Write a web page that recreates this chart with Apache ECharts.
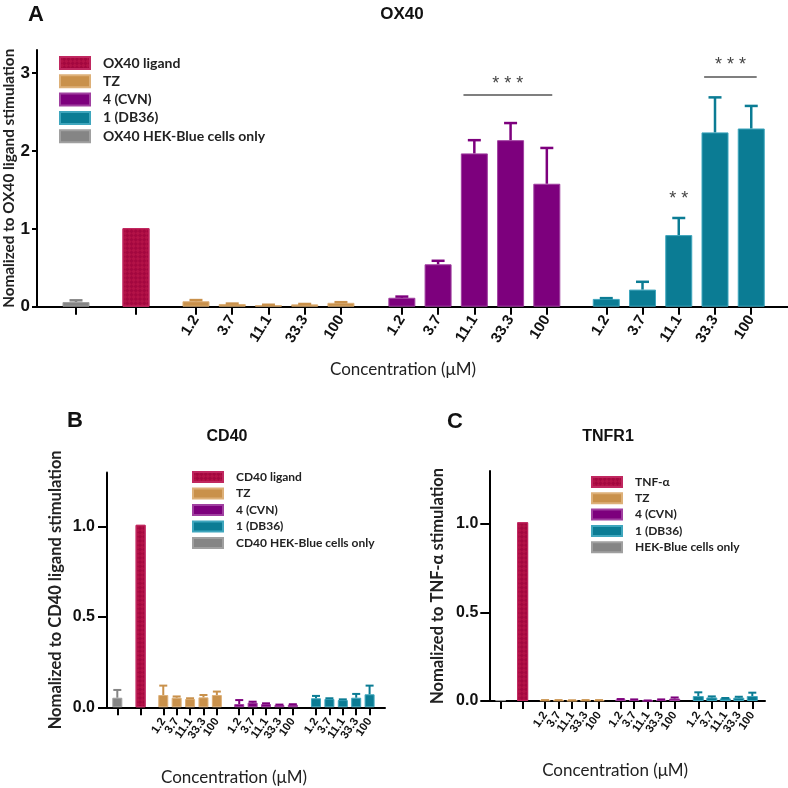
<!DOCTYPE html>
<html><head><meta charset="utf-8">
<script src="https://cdn.jsdelivr.net/npm/echarts@6/dist/echarts.min.js"></script>
<style>html,body{margin:0;padding:0;background:#fff}#c{width:788px;height:788px}</style>
</head><body><div id="c"></div><script>
// ---------- data ----------
const concLabels = ['1.2', '3.7', '11.1', '33.3', '100'];
const groupNames = ['TZ', '4 (CVN)', '1 (DB36)'];

// Panel A: OX40
const aCells = [0.06], aCellsErr = [0.022];
const aLigand = [1.01], aLigandErr = [0];
const aTZ = [0.07, 0.035, 0.02, 0.03, 0.05], aTZErr = [0.015, 0.005, 0.005, 0.005, 0.008];
const aCVN = [0.115, 0.545, 1.97, 2.14, 1.58], aCVNErr = [0.015, 0.045, 0.17, 0.22, 0.46];
const aDB36 = [0.10, 0.22, 0.92, 2.24, 2.29], aDB36Err = [0.01, 0.10, 0.22, 0.45, 0.29];
const aSig = [
  { group: 3, from: 2, to: 4, y: 2.72, text: '* * *' },
  { group: 4, from: 3, to: 4, y: 2.96, text: '* * *' }
];
const aSigSingle = [{ group: 4, idx: 2, y: 1.38, text: '* *' }];

// Panel B: CD40
const bCells = [0.053], bCellsErr = [0.043];
const bLigand = [1.01], bLigandErr = [0];
const bTZ = [0.068, 0.053, 0.046, 0.055, 0.068], bTZErr = [0.052, 0.007, 0.004, 0.013, 0.019];
const bCVN = [0.018, 0.026, 0.018, 0.013, 0.015], bCVNErr = [0.022, 0.005, 0.004, 0.002, 0.002];
const bDB36 = [0.05, 0.046, 0.04, 0.053, 0.072], bDB36Err = [0.013, 0.004, 0.004, 0.021, 0.048];

// Panel C: TNFR1
const cCells = [0.005], cCellsErr = [0];
const cLigand = [1.01], cLigandErr = [0];
const cTZ = [0.004, 0.004, 0.003, 0.004, 0.004], cTZErr = [0.001, 0.001, 0.001, 0.001, 0.001];
const cCVN = [0.008, 0.006, 0.002, 0.006, 0.014], cCVNErr = [0.003, 0.003, 0.001, 0.003, 0.006];
const cDB36 = [0.028, 0.02, 0.015, 0.019, 0.028], cDB36Err = [0.021, 0.006, 0.002, 0.005, 0.019];

// ---------- styling ----------
const colors = ['#858585', '#a3073f', '#c9914b', '#7d007d', '#0b7c94'];
const borders = ['#a0a0a0', '#c02860', '#ddb078', '#a040a0', '#3fa6bd'];
const ligandDecal = {
  symbol: 'rect', symbolSize: 1, dashArrayX: [[3, 3], [0, 3, 3, 0]], dashArrayY: [3, 0],
  color: 'rgba(200,30,80,0.45)', rotation: Math.PI / 4
};
const sansB = 'Liberation Sans';
const cal = 'Lato';

function layout(first, gaps, sizes) {
  const out = []; let x = first;
  for (let g = 0; g < sizes.length; g++) {
    if (g > 0) x += gaps[g - 1];
    const arr = [];
    for (let i = 0; i < sizes[g]; i++) { if (i > 0) x += 1; arr.push(+x.toFixed(3)); }
    out.push(arr);
  }
  return out;
}

function errRender(lw, cap) {
  return function (params, api) {
    const x = api.value(0), v = api.value(1), e = api.value(2);
    if (!e) return { type: 'group', children: [] };
    const p0 = api.coord([x, v]), p1 = api.coord([x, v + e]);
    const c = api.visual('color');
    return { type: 'group', children: [
      { type: 'line', shape: { x1: p0[0], y1: p0[1], x2: p1[0], y2: p1[1] }, style: { stroke: c, lineWidth: lw } },
      { type: 'line', shape: { x1: p1[0] - cap / 2, y1: p1[1], x2: p1[0] + cap / 2, y2: p1[1] }, style: { stroke: c, lineWidth: lw } }
    ] };
  };
}

const panels = [
  { names: ['OX40 HEK-Blue cells only', 'OX40 ligand', 'TZ', '4 (CVN)', '1 (DB36)'],
    vals: [aCells, aLigand, aTZ, aCVN, aDB36], errs: [aCellsErr, aLigandErr, aTZErr, aCVNErr, aDB36Err],
    first: 1.076, gaps: [1.655, 1.655, 1.68, 1.64], xmax: 20.72, ymax: 3.3,
    barWidth: 27, lw: 2.5, cap: 13,
    grid: { left: 37, right: 0, top: 49.9, bottom: 481.3 },
    yTicks: [0, 1, 2, 3], yFmt: v => String(v), yFont: 17, yMargin: 7, yTickLen: 5,
    xFont: 15, xRot: 58, xMargin: 10,
    yName: 'Nomalized to OX40 ligand stimulation', yNameGap: 20, yNameSize: 15.3,
    xNameGap: 54, xNameShift: 9.5 },
  { names: ['CD40 HEK-Blue cells only', 'CD40 ligand', 'TZ', '4 (CVN)', '1 (DB36)'],
    vals: [bCells, bLigand, bTZ, bCVN, bDB36], errs: [bCellsErr, bLigandErr, bTZErr, bCVNErr, bDB36Err],
    first: 0.77, gaps: [1.74, 1.69, 1.67, 1.73], xmax: 20.75, ymax: 1.3,
    barWidth: 10, lw: 2, cap: 8,
    grid: { left: 107, right: 403, top: 472.4, bottom: 80.7 },
    yTicks: [0, 0.5, 1], yFmt: v => v.toFixed(1), yFont: 16, yMargin: 12, yTickLen: 9,
    xFont: 11.5, xRot: 55, xMargin: 12,
    yName: 'Nomalized to CD40 ligand stimulation', yNameGap: 42.5, yNameSize: 16.5,
    xNameGap: 62, xNameShift: 12 },
  { names: ['HEK-Blue cells only', 'TNF-α', 'TZ', '4 (CVN)', '1 (DB36)'],
    vals: [cCells, cLigand, cTZ, cCVN, cDB36], errs: [cCellsErr, cLigandErr, cTZErr, cCVNErr, cDB36Err],
    first: 0.84, gaps: [1.63, 1.66, 1.6, 1.75], xmax: 20.42, ymax: 1.3,
    barWidth: 11, lw: 2, cap: 8,
    grid: { left: 489.3, right: 23, top: 470.9, bottom: 87 },
    yTicks: [0, 0.5, 1], yFmt: v => v.toFixed(1), yFont: 16, yMargin: 11, yTickLen: 9,
    xFont: 11.5, xRot: 55, xMargin: 12,
    yName: 'Nomalized to TNF-α stimulation', yNameGap: 43, yNameSize: 16.5,
    xNameGap: 61, xNameShift: 12 }
];

const grids = [], xAxes = [], yAxes = [], series = [];
panels.forEach((p, k) => {
  const pos = layout(p.first, p.gaps, p.vals.map(v => v.length));
  const allPos = [].concat(...pos);
  const concPos = [].concat(pos[2], pos[3], pos[4]);
  const labelFor = v => {
    let best = 0, bd = Infinity;
    concPos.forEach((c, i) => { const d = Math.abs(c - v); if (d < bd) { bd = d; best = i; } });
    return bd < 0.4 ? concLabels[best % concLabels.length] : ' ';
  };
  // blank sentinels at both ends of the axis (ECharts drops the first/last entries when showMin/MaxLabel is false)
  const tickVals = [0].concat(allPos, [p.xmax]);
  const labelVals = [0].concat(concPos, [p.xmax]);
  grids.push(Object.assign({ containLabel: false, outerBoundsMode: 'none' }, p.grid));
  xAxes.push({
    gridIndex: k, type: 'value', min: 0, max: p.xmax, splitLine: { show: false },
    axisLine: { show: true, onZero: false, lineStyle: { color: '#000', width: 2 } },
    axisTick: { show: true, customValues: tickVals, length: 8, lineStyle: { color: '#000', width: 2 } },
    axisLabel: { show: true, customValues: labelVals, formatter: v => labelFor(+v),
      hideOverlap: false, showMinLabel: false, showMaxLabel: false,
      rotate: p.xRot, margin: p.xMargin, fontSize: p.xFont, fontWeight: 'bold', fontFamily: sansB, color: '#111' },
    name: 'Concentration (μM)', nameLocation: 'middle', nameGap: p.xNameGap, nameMoveOverlap: false,
    nameTextStyle: { fontFamily: cal, fontSize: 17, color: '#222', padding: [0, 2 * p.xNameShift, 0, 0] }
  });
  yAxes.push({
    gridIndex: k, type: 'value', min: 0, max: p.ymax, splitLine: { show: false },
    axisLine: { show: true, onZero: false, lineStyle: { color: '#000', width: 2 } },
    axisTick: { show: true, customValues: p.yTicks, length: p.yTickLen, lineStyle: { color: '#000', width: 2 } },
    axisLabel: { show: true, customValues: p.yTicks, formatter: v => p.yFmt(+v), margin: p.yMargin,
      hideOverlap: false, showMinLabel: true, showMaxLabel: true,
      fontSize: p.yFont, fontWeight: 'bold', fontFamily: sansB, color: '#111' },
    name: p.yName, nameLocation: 'middle', nameGap: p.yNameGap, nameMoveOverlap: false,
    nameTextStyle: { fontFamily: cal, fontWeight: 'bold', fontSize: p.yNameSize, color: '#222' }
  });
  p.vals.forEach((vals, g) => {
    const s = {
      name: p.names[g], type: 'bar', xAxisIndex: k, yAxisIndex: k,
      barWidth: p.barWidth, barGap: '-100%',
      data: vals.map((v, i) => [pos[g][i], v]),
      itemStyle: { color: colors[g], borderColor: borders[g], borderWidth: 1, decal: g === 1 ? ligandDecal : null },
      z: 2
    };
    if (k === 0) {
      const lines = aSig.filter(d => d.group === g);
      if (lines.length) s.markLine = {
        silent: true, symbol: 'none', animation: false,
        lineStyle: { color: '#555', width: 1.5, type: 'solid' },
        label: { show: true, position: 'insideMiddleTop', distance: 2, fontSize: 18, color: '#444', fontFamily: sansB },
        data: lines.map(d => [
          { coord: [pos[g][d.from] - 0.3, d.y], label: { formatter: d.text } },
          { coord: [pos[g][d.to] + 0.15, d.y] }
        ])
      };
      const singles = aSigSingle.filter(d => d.group === g);
      if (singles.length) s.markPoint = {
        silent: true, symbol: 'circle', symbolSize: 0, animation: false,
        label: { show: true, position: 'inside', fontSize: 18, color: '#444', fontFamily: sansB },
        data: singles.map(d => ({ coord: [pos[g][d.idx], d.y], label: { formatter: d.text } }))
      };
    }
    series.push(s);
    series.push({
      type: 'custom', xAxisIndex: k, yAxisIndex: k, z: 3,
      renderItem: errRender(p.lw, p.cap),
      itemStyle: { color: colors[g] },
      data: vals.map((v, i) => [pos[g][i], v, p.errs[g][i]])
    });
  });
});

const legendBase = (top, left, h, gap, fs, names) => ({
  orient: 'vertical', left, top, padding: 0, itemWidth: 30, itemHeight: h, itemGap: gap, icon: 'rect', selectedMode: false,
  textStyle: { fontFamily: cal, fontWeight: 'bold', fontSize: fs, color: '#222', lineHeight: h, padding: [0, 0, 0, 8] },
  data: names
});

const titleStyle = (fs) => ({ fontFamily: sansB, fontWeight: 'bold', fontSize: fs, color: '#111' });

const chart = echarts.init(document.getElementById('c'), null, { renderer: 'canvas' });
chart.setOption({
  animation: false,
  backgroundColor: '#fff',
  title: [
    { text: 'A', left: 36, top: 4, textAlign: 'center', padding: 0, textStyle: titleStyle(22) },
    { text: 'OX40', left: 402, top: 6, textAlign: 'center', padding: 0, textStyle: titleStyle(17) },
    { text: 'B', left: 75, top: 410, textAlign: 'center', padding: 0, textStyle: titleStyle(22) },
    { text: 'CD40', left: 227, top: 429, textAlign: 'center', padding: 0, textStyle: titleStyle(16) },
    { text: 'C', left: 455, top: 411, textAlign: 'center', padding: 0, textStyle: titleStyle(22) },
    { text: 'TNFR1', left: 608, top: 429, textAlign: 'center', padding: 0, textStyle: titleStyle(16) }
  ],
  legend: [
    legendBase(56, 59, 12, 4.3, 14, [panels[0].names[1], 'TZ', '4 (CVN)', '1 (DB36)', panels[0].names[0]]),
    legendBase(471, 192, 10, 4.5, 12, [panels[1].names[1], 'TZ', '4 (CVN)', '1 (DB36)', panels[1].names[0]]),
    legendBase(476, 591, 10, 4.3, 12, [panels[2].names[1], 'TZ', '4 (CVN)', '1 (DB36)', panels[2].names[0]])
  ],
  grid: grids, xAxis: xAxes, yAxis: yAxes, series
});
</script></body></html>
